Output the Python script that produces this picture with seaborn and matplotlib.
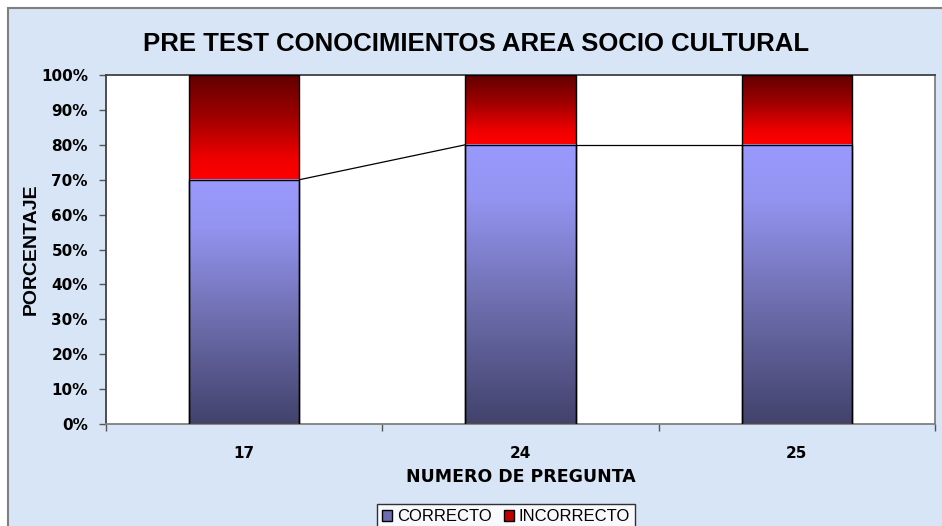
import numpy as np
import pandas as pd
import matplotlib
matplotlib.use("Agg")
import matplotlib.pyplot as plt
import seaborn as sns
from matplotlib.colors import LinearSegmentedColormap
from matplotlib.patches import Patch

categories = ["17", "24", "25"]
correcto = [70, 80, 80]
incorrecto = [30, 20, 20]
y_ticks = [0, 10, 20, 30, 40, 50, 60, 70, 80, 90, 100]
y_tick_labels = ["0%", "10%", "20%", "30%", "40%", "50%", "60%", "70%", "80%", "90%", "100%"]

sns.set_theme(style="white")
plt.rcParams['font.family'] = ['Liberation Sans', 'DejaVu Sans']
plt.rcParams['text.color'] = 'black'
plt.rcParams['axes.labelcolor'] = 'black'
plt.rcParams['xtick.color'] = 'black'
plt.rcParams['ytick.color'] = 'black'

df = pd.DataFrame({"pregunta": categories, "correcto": correcto,
                   "total": [c + i for c, i in zip(correcto, incorrecto)]})

fig = plt.figure(figsize=(9.42, 5.26), dpi=100)
fig.patch.set_facecolor("white")
bg = plt.Rectangle((8/942, -0.1), 1.2, (526-8)/526 + 0.1, transform=fig.transFigure,
                   facecolor="#d8e5f6", edgecolor="#7f7f7f", linewidth=1.5, zorder=-10)
fig.patches.append(bg)

ax = fig.add_axes([106/942, 1-424/526, (935-106)/942, (424-75)/526])
ax.set_facecolor("white")

sns.barplot(data=df, x="pregunta", y="total", color="red", width=0.4,
            edgecolor="black", linewidth=1.0, ax=ax, saturation=1)
sns.barplot(data=df, x="pregunta", y="correcto", color="blue", width=0.4,
            edgecolor="black", linewidth=1.0, ax=ax, saturation=1)

red_cmap = LinearSegmentedColormap.from_list("r", [(0, "#620000"), (0.4, "#a00000"),
                                                   (0.8, "#f00000"), (1, "#ff0000")])
blue_cmap = LinearSegmentedColormap.from_list("b", [(0, "#9a9aff"), (0.2, "#9393f0"),
                                                    (0.55, "#7070b2"), (1, "#42426c")])
n = len(categories)
patches = ax.patches
grad = np.linspace(0, 1, 256).reshape(-1, 1)
for k, p in enumerate(patches):
    cmap = red_cmap if k < n else blue_cmap
    x0, y0 = p.get_x(), p.get_y()
    w, h = p.get_width(), p.get_height()
    if k < n:
        y0 = correcto[k]
        h = incorrecto[k]
    ax.imshow(grad, cmap=cmap, aspect="auto", extent=[x0, x0 + w, y0, y0 + h],
              origin="upper", zorder=2)
    p.set_facecolor("none")
    p.set_zorder(3)

bars_c = patches[n:]
for i in range(n - 1):
    a, b = bars_c[i], bars_c[i + 1]
    ax.plot([a.get_x() + a.get_width(), b.get_x()], [a.get_height(), b.get_height()],
            color="black", linewidth=0.9, zorder=3)

ax.set_xlim(-0.5, n - 0.5)
ax.set_ylim(0, 100)
ax.set_yticks(y_ticks)
ax.set_yticklabels(y_tick_labels, fontweight="bold", fontsize=11, family="DejaVu Sans")
ax.set_xticks(range(n))
ax.set_xticklabels(categories, fontweight="bold", fontsize=11, family="DejaVu Sans")
ax.set_xticks([i - 0.5 for i in range(n + 1)], minor=True)
ax.tick_params(axis="x", which="major", length=0, pad=16)
ax.tick_params(axis="x", which="minor", length=5, width=1, color="#555555", bottom=True)
ax.tick_params(axis="y", which="major", length=5, width=1, color="#555555", left=True, pad=8)
for s in ["top", "left"]:
    ax.spines[s].set_color("#404040")
    ax.spines[s].set_linewidth(1.3)
for s in ["right", "bottom"]:
    ax.spines[s].set_color("#808080")
    ax.spines[s].set_linewidth(1.3)

ax.set_xlabel("NUMERO DE PREGUNTA", fontweight="bold", fontsize=12.5,
              family="DejaVu Sans", labelpad=5)
ax.set_ylabel("PORCENTAJE", fontweight="bold", fontsize=14, labelpad=1)

fig.text(476/942, 1-44/526, "PRE TEST CONOCIMIENTOS AREA SOCIO CULTURAL",
         ha="center", va="center", fontsize=18.5, fontweight="bold",
         family=["Liberation Sans Narrow", "Liberation Sans"])

handles = [Patch(facecolor="#6c6cb0", edgecolor="black", label="CORRECTO"),
           Patch(facecolor="#c00000", edgecolor="black", label="INCORRECTO")]
leg = fig.legend(handles=handles, loc="upper center", bbox_to_anchor=(506/942, 1-496/526),
                 ncol=2, frameon=True, fancybox=False, edgecolor="black", fontsize=12,
                 handlelength=0.6, handleheight=0.6, handletextpad=0.3, columnspacing=0.7,
                 borderpad=0.3)
leg.get_frame().set_linewidth(1.0)
leg.get_frame().set_facecolor("white")

fig.savefig("out.png", dpi=100)
